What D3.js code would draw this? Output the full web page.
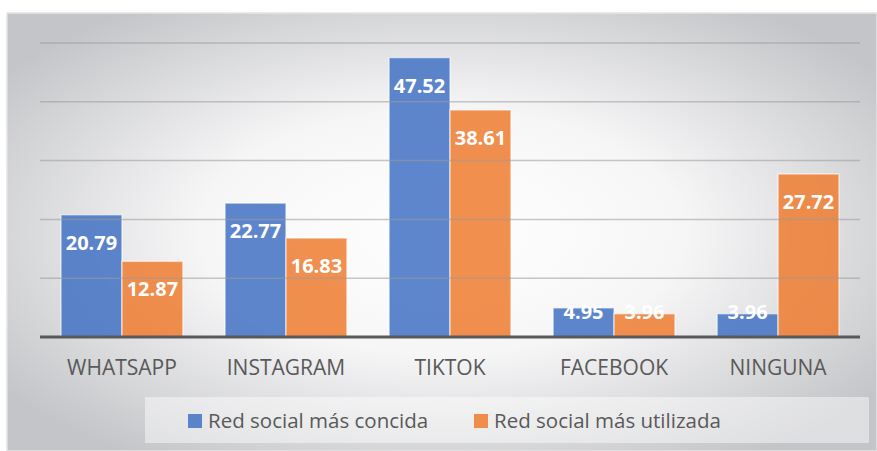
<!DOCTYPE html>
<html>
<head>
<meta charset="utf-8">
<script src="https://cdn.jsdelivr.net/npm/d3@7"></script>
<style>
  html, body { margin: 0; padding: 0; background: #fff; }
  svg { display: block; }
</style>
</head>
<body>
<svg id="chart"></svg>
<script>
// chart data
var categories = ["WHATSAPP", "INSTAGRAM", "TIKTOK", "FACEBOOK", "NINGUNA"];
var seriesNames = ["Red social más concida", "Red social más utilizada"];
var conocida = [20.79, 22.77, 47.52, 4.95, 3.96];
var utilizada = [12.87, 16.83, 38.61, 3.96, 27.72];
var yTicks = [0, 10, 20, 30, 40, 50];
var seriesColors = ["#4472c4", "#ed7d31"];

var width = 877, height = 451;
var margin = { top: 43, right: 17, bottom: 114, left: 40 };

var svg = d3.select("#chart")
    .attr("width", width)
    .attr("height", height);

// background panel, radial grey gradient
var defs = svg.append("defs");
var grad = defs.append("radialGradient")
    .attr("id", "bg")
    .attr("cx", "50%").attr("cy", "50%").attr("r", "62%");
grad.append("stop").attr("offset", "0%").attr("stop-color", "#ffffff");
grad.append("stop").attr("offset", "45%").attr("stop-color", "#f6f6f7");
grad.append("stop").attr("offset", "100%").attr("stop-color", "#c4c5c8");

svg.append("rect")
    .attr("x", 7).attr("y", 13)
    .attr("width", width - 7).attr("height", height - 13)
    .attr("fill", "url(#bg)")
    .attr("stroke", "#e4e4e6")
    .attr("stroke-width", 1.5);

var x0 = d3.scaleBand()
    .domain(categories)
    .range([margin.left, width - margin.right])
    .paddingInner(0.257)
    .paddingOuter(0.128);

var x1 = d3.scaleBand()
    .domain([0, 1])
    .range([0, x0.bandwidth()]);

var y = d3.scaleLinear()
    .domain([0, 50])
    .range([height - margin.bottom, margin.top]);

// bars
var rows = categories.map(function (c, i) {
    return { cat: c, values: [conocida[i], utilizada[i]] };
});

var groups = svg.append("g").selectAll("g")
    .data(rows)
    .join("g")
    .attr("transform", d => `translate(${x0(d.cat)},0)`);

groups.selectAll("rect")
    .data(d => d.values.map((v, k) => ({ k: k, v: v })))
    .join("rect")
    .attr("x", d => x1(d.k))
    .attr("y", d => y(d.v))
    .attr("width", x1.bandwidth())
    .attr("height", d => y(0) - y(d.v))
    .attr("fill", d => seriesColors[d.k])
    .attr("fill-opacity", 0.86)
    .attr("stroke", "#ffffff")
    .attr("stroke-opacity", 0.55)
    .attr("stroke-width", 1.5);

// gridlines drawn faintly over bars
svg.append("g")
    .selectAll("line")
    .data(yTicks.filter(t => t > 0))
    .join("line")
    .attr("x1", margin.left)
    .attr("x2", width - margin.right)
    .attr("y1", d => y(d))
    .attr("y2", d => y(d))
    .attr("stroke", "#9a9a9a")
    .attr("stroke-opacity", 0.55)
    .attr("stroke-width", 1.5);

// baseline
svg.append("line")
    .attr("x1", margin.left)
    .attr("x2", width - margin.right)
    .attr("y1", y(0))
    .attr("y2", y(0))
    .attr("stroke", "#595959")
    .attr("stroke-width", 3);

// value labels
groups.selectAll("text")
    .data(d => d.values.map((v, k) => ({ k: k, v: v })))
    .join("text")
    .attr("x", d => x1(d.k) + x1.bandwidth() / 2)
    .attr("y", d => Math.min(y(d.v) + 28, y(0) - 25))
    .attr("dy", "0.35em")
    .attr("text-anchor", "middle")
    .attr("fill", "#ffffff")
    .attr("font-family", "'Open Sans', sans-serif")
    .attr("font-weight", "bold")
    .attr("font-size", 20)
    .text(d => d.v.toFixed(2));

// category axis
var xAxis = d3.axisBottom(x0).tickSize(0).tickPadding(0);
svg.append("g")
    .attr("transform", `translate(0,${y(0)})`)
    .call(xAxis)
    .call(g => g.select(".domain").remove())
    .call(g => g.selectAll("text")
        .attr("y", 31)
        .attr("dy", "0.35em")
        .attr("fill", "#595959")
        .attr("font-family", "'Open Sans', sans-serif")
        .attr("font-size", 21));

// legend
svg.append("rect")
    .attr("x", 145).attr("y", 397)
    .attr("width", 724).attr("height", 46)
    .attr("fill", "#ffffff")
    .attr("fill-opacity", 0.45);

var legendX = [188, 474];
var legend = svg.append("g").selectAll("g")
    .data(seriesNames)
    .join("g")
    .attr("transform", (d, i) => `translate(${legendX[i]},421)`);

legend.append("rect")
    .attr("x", 0).attr("y", -7)
    .attr("width", 14).attr("height", 14)
    .attr("fill", (d, i) => seriesColors[i])
    .attr("fill-opacity", 0.86);

legend.append("text")
    .attr("x", 20)
    .attr("dy", "0.35em")
    .attr("fill", "#595959")
    .attr("font-family", "'Open Sans', sans-serif")
    .attr("font-size", 20.5)
    .text(d => d);
</script>
</body>
</html>
